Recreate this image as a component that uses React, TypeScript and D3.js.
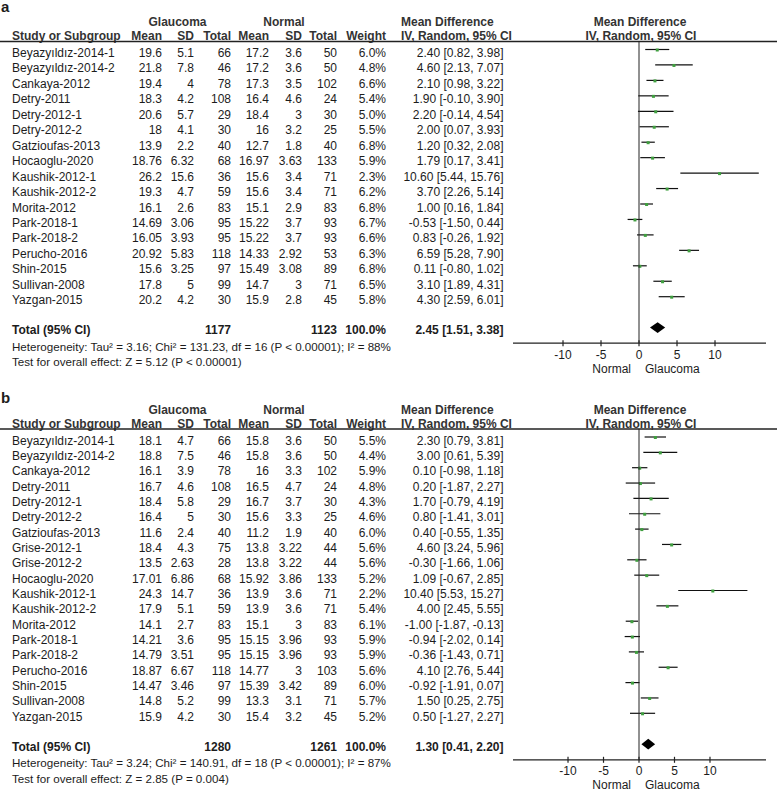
import React from 'react';
import * as d3 from 'd3';

// ---------- Panel a data ----------
const studiesA = ["Beyazyıldız-2014-1","Beyazyıldız-2014-2","Cankaya-2012","Detry-2011","Detry-2012-1","Detry-2012-2","Gatzioufas-2013","Hocaoglu-2020","Kaushik-2012-1","Kaushik-2012-2","Morita-2012","Park-2018-1","Park-2018-2","Perucho-2016","Shin-2015","Sullivan-2008","Yazgan-2015"];
const gMeanA = ["19.6","21.8","19.4","18.3","20.6","18","13.9","18.76","26.2","19.3","16.1","14.69","16.05","20.92","15.6","17.8","20.2"];
const gSDA = ["5.1","7.8","4","4.2","5.7","4.1","2.2","6.32","15.6","4.7","2.6","3.06","3.93","5.83","3.25","5","4.2"];
const gTotalA = [66,46,78,108,29,30,40,68,36,59,83,95,95,118,97,99,30];
const nMeanA = ["17.2","17.2","17.3","16.4","18.4","16","12.7","16.97","15.6","15.6","15.1","15.22","15.22","14.33","15.49","14.7","15.9"];
const nSDA = ["3.6","3.6","3.5","4.6","3","3.2","1.8","3.63","3.4","3.4","2.9","3.7","3.7","2.92","3.08","3","2.8"];
const nTotalA = [50,50,102,24,30,25,40,133,71,71,83,93,93,53,89,71,45];
const weightA = [6.0,4.8,6.6,5.4,5.0,5.5,6.8,5.9,2.3,6.2,6.8,6.7,6.6,6.3,6.8,6.5,5.8];
const mdA = [2.40,4.60,2.10,1.90,2.20,2.00,1.20,1.79,10.60,3.70,1.00,-0.53,0.83,6.59,0.11,3.10,4.30];
const loA = [0.82,2.13,0.98,-0.10,-0.14,0.07,0.32,0.17,5.44,2.26,0.16,-1.50,-0.26,5.28,-0.80,1.89,2.59];
const hiA = [3.98,7.07,3.22,3.90,4.54,3.93,2.08,3.41,15.76,5.14,1.84,0.44,1.92,7.90,1.02,4.31,6.01];
const totalA = { g: 1177, n: 1123, md: 2.45, lo: 1.51, hi: 3.38 };
const hetA = "Heterogeneity: Tau² = 3.16; Chi² = 131.23, df = 16 (P < 0.00001); I² = 88%";
const testA = "Test for overall effect: Z = 5.12 (P < 0.00001)";

// ---------- Panel b data ----------
const studiesB = ["Beyazyıldız-2014-1","Beyazyıldız-2014-2","Cankaya-2012","Detry-2011","Detry-2012-1","Detry-2012-2","Gatzioufas-2013","Grise-2012-1","Grise-2012-2","Hocaoglu-2020","Kaushik-2012-1","Kaushik-2012-2","Morita-2012","Park-2018-1","Park-2018-2","Perucho-2016","Shin-2015","Sullivan-2008","Yazgan-2015"];
const gMeanB = ["18.1","18.8","16.1","16.7","18.4","16.4","11.6","18.4","13.5","17.01","24.3","17.9","14.1","14.21","14.79","18.87","14.47","14.8","15.9"];
const gSDB = ["4.7","7.5","3.9","4.6","5.8","5","2.4","4.3","2.63","6.86","14.7","5.1","2.7","3.6","3.51","6.67","3.46","5.2","4.2"];
const gTotalB = [66,46,78,108,29,30,40,75,28,68,36,59,83,95,95,118,97,99,30];
const nMeanB = ["15.8","15.8","16","16.5","16.7","15.6","11.2","13.8","13.8","15.92","13.9","13.9","15.1","15.15","15.15","14.77","15.39","13.3","15.4"];
const nSDB = ["3.6","3.6","3.3","4.7","3.7","3.3","1.9","3.22","3.22","3.86","3.6","3.6","3","3.96","3.96","3","3.42","3.1","3.2"];
const nTotalB = [50,50,102,24,30,25,40,44,44,133,71,71,83,93,93,103,89,71,45];
const weightB = [5.5,4.4,5.9,4.8,4.3,4.6,6.0,5.6,5.6,5.2,2.2,5.4,6.1,5.9,5.9,5.6,6.0,5.7,5.2];
const mdB = [2.30,3.00,0.10,0.20,1.70,0.80,0.40,4.60,-0.30,1.09,10.40,4.00,-1.00,-0.94,-0.36,4.10,-0.92,1.50,0.50];
const loB = [0.79,0.61,-0.98,-1.87,-0.79,-1.41,-0.55,3.24,-1.66,-0.67,5.53,2.45,-1.87,-2.02,-1.43,2.76,-1.91,0.25,-1.27];
const hiB = [3.81,5.39,1.18,2.27,4.19,3.01,1.35,5.96,1.06,2.85,15.27,5.55,-0.13,0.14,0.71,5.44,0.07,2.75,2.27];
const totalB = { g: 1280, n: 1261, md: 1.30, lo: 0.41, hi: 2.20 };
const hetB = "Heterogeneity: Tau² = 3.24; Chi² = 140.91, df = 18 (P < 0.00001); I² = 87%";
const testB = "Test for overall effect: Z = 2.85 (P = 0.004)";

const axisTicks = [-10, -5, 0, 5, 10];

const FONT = "'Liberation Sans', Arial, Helvetica, sans-serif";
const TXT = "#1c1c1c";

type PanelProps = {
  letter: string; letterY: number; top: number;
  studies: string[]; gMean: string[]; gSD: string[]; gTotal: number[];
  nMean: string[]; nSD: string[]; nTotal: number[]; weight: number[];
  md: number[]; lo: number[]; hi: number[];
  total: { g: number; n: number; md: number; lo: number; hi: number };
  het: string; test: string; domain: [number, number]; pitch: number;
};

const ci = (m: number, l: number, h: number) => `${m.toFixed(2)} [${l.toFixed(2)}, ${h.toFixed(2)}]`;

function Panel(p: PanelProps) {
  const n = p.studies.length;
  const headerLine = p.top + 41.5;
  const firstBase = headerLine + 15.5;
  const y = d3.scaleLinear().domain([0, n - 1]).range([firstBase, firstBase + (n - 1) * p.pitch]);
  const totalBase = y(n - 1) + 30;
  const axisY = totalBase + 9;
  const x = d3.scaleLinear().domain(p.domain).range([513, 766]);
  const cols = { gm: 162, gs: 194, gt: 231, nm: 269, ns: 302, nt: 337, w: 386, md: 503.5 };
  const t = (xx: number, yy: number, s: string, anchor = 'end', bold = false) => (
    <text x={xx} y={yy} textAnchor={anchor} fontWeight={bold ? 'bold' : 'normal'}>{s}</text>
  );
  const hb = headerLine - 1.2;
  return (
    <g fill={TXT} fontFamily={FONT} fontSize={12}>
      <text x={1} y={p.letterY} fontSize={15} fontWeight="bold">{p.letter}</text>
      <text x={177.5} y={p.top + 26} textAnchor="middle" fontWeight="bold" fill="#333">Glaucoma</text>
      <text x={284} y={p.top + 26} textAnchor="middle" fontWeight="bold" fill="#333">Normal</text>
      <text x={401} y={p.top + 26} fontWeight="bold" fill="#333">Mean Difference</text>
      <text x={640} y={p.top + 26} textAnchor="middle" fontWeight="bold" fill="#333">Mean Difference</text>
      <g fontWeight="bold" fill="#333">
        {t(12, hb, 'Study or Subgroup', 'start', true)}
        {t(cols.gm, hb, 'Mean', 'end', true)}
        {t(cols.gs, hb, 'SD', 'end', true)}
        {t(cols.gt, hb, 'Total', 'end', true)}
        {t(cols.nm, hb, 'Mean', 'end', true)}
        {t(cols.ns, hb, 'SD', 'end', true)}
        {t(cols.nt, hb, 'Total', 'end', true)}
        {t(cols.w, hb, 'Weight', 'end', true)}
        {t(401, hb, 'IV, Random, 95% CI', 'start', true)}
        {t(641, hb, 'IV, Random, 95% CI', 'middle', true)}
      </g>
      <line x1={0} x2={777} y1={headerLine} y2={headerLine} stroke="#222" strokeWidth={1.3} />
      {p.studies.map((s, i) => {
        const yy = y(i);
        return (
          <g key={s}>
            {t(12, yy, s, 'start')}
            {t(cols.gm, yy, p.gMean[i])}
            {t(cols.gs, yy, p.gSD[i])}
            {t(cols.gt, yy, String(p.gTotal[i]))}
            {t(cols.nm, yy, p.nMean[i])}
            {t(cols.ns, yy, p.nSD[i])}
            {t(cols.nt, yy, String(p.nTotal[i]))}
            {t(cols.w, yy, p.weight[i].toFixed(1) + '%')}
            {t(cols.md, yy, ci(p.md[i], p.lo[i], p.hi[i]))}
            <line x1={x(p.lo[i])} x2={x(p.hi[i])} y1={yy - 7.5} y2={yy - 7.5} stroke="#111" strokeWidth={1.2} />
            <rect x={x(p.md[i]) - 1.5} y={yy - 7.5 - 1} width={3} height={3} fill="#3f9f3f" />
          </g>
        );
      })}
      {t(12, totalBase, 'Total (95% CI)', 'start', true)}
      {t(cols.gt, totalBase, String(p.total.g), 'end', true)}
      {t(cols.nt, totalBase, String(p.total.n), 'end', true)}
      {t(cols.w, totalBase, '100.0%', 'end', true)}
      {t(cols.md, totalBase, ci(p.total.md, p.total.lo, p.total.hi), 'end', true)}
      <g fontSize={11.6}>
        {t(12, totalBase + 16.3, p.het, 'start')}
        {t(12, totalBase + 31.7, p.test, 'start')}
      </g>
      {/* forest */}
      <line x1={x(0)} x2={x(0)} y1={headerLine} y2={axisY} stroke="#222" strokeWidth={1} />
      <path
        d={`M${x(p.total.lo) - 0.5},${totalBase - 6.6} L${x(p.total.md)},${totalBase - 12} L${x(p.total.hi) + 0.5},${totalBase - 6.6} L${x(p.total.md)},${totalBase - 1.2} Z`}
        fill="#000"
      />
      <line x1={x.range()[0]} x2={x.range()[1]} y1={axisY} y2={axisY} stroke="#222" strokeWidth={1.2} />
      {axisTicks.map((v) => (
        <g key={v}>
          <line x1={x(v)} x2={x(v)} y1={axisY - 3} y2={axisY + 3} stroke="#222" strokeWidth={1.2} />
          <text x={x(v)} y={axisY + 15.5} textAnchor="middle">{String(v)}</text>
        </g>
      ))}
      <text x={x(0) - 8} y={axisY + 29.5} textAnchor="end">Normal</text>
      <text x={x(0) + 6} y={axisY + 29.5} textAnchor="start">Glaucoma</text>
    </g>
  );
}

export default function App() {
  return (
    <svg width={777} height={791} style={{ position: 'absolute', left: 0, top: 0, background: '#fff' }}>
      <rect width={777} height={791} fill="#fff" />
      <Panel letter="a" letterY={11.5} top={0} studies={studiesA} gMean={gMeanA} gSD={gSDA} gTotal={gTotalA}
        nMean={nMeanA} nSD={nSDA} nTotal={nTotalA} weight={weightA} md={mdA} lo={loA} hi={hiA}
        total={totalA} het={hetA} test={testA} domain={[-16.58, 16.71]} pitch={15.45} />
      <Panel letter="b" letterY={403} top={387.5} studies={studiesB} gMean={gMeanB} gSD={gSDB} gTotal={gTotalB}
        nMean={nMeanB} nSD={nSDB} nTotal={nTotalB} weight={weightB} md={mdB} lo={loB} hi={hiB}
        total={totalB} het={hetB} test={testB} domain={[-17.75, 17.89]} pitch={15.35} />
    </svg>
  );
}
